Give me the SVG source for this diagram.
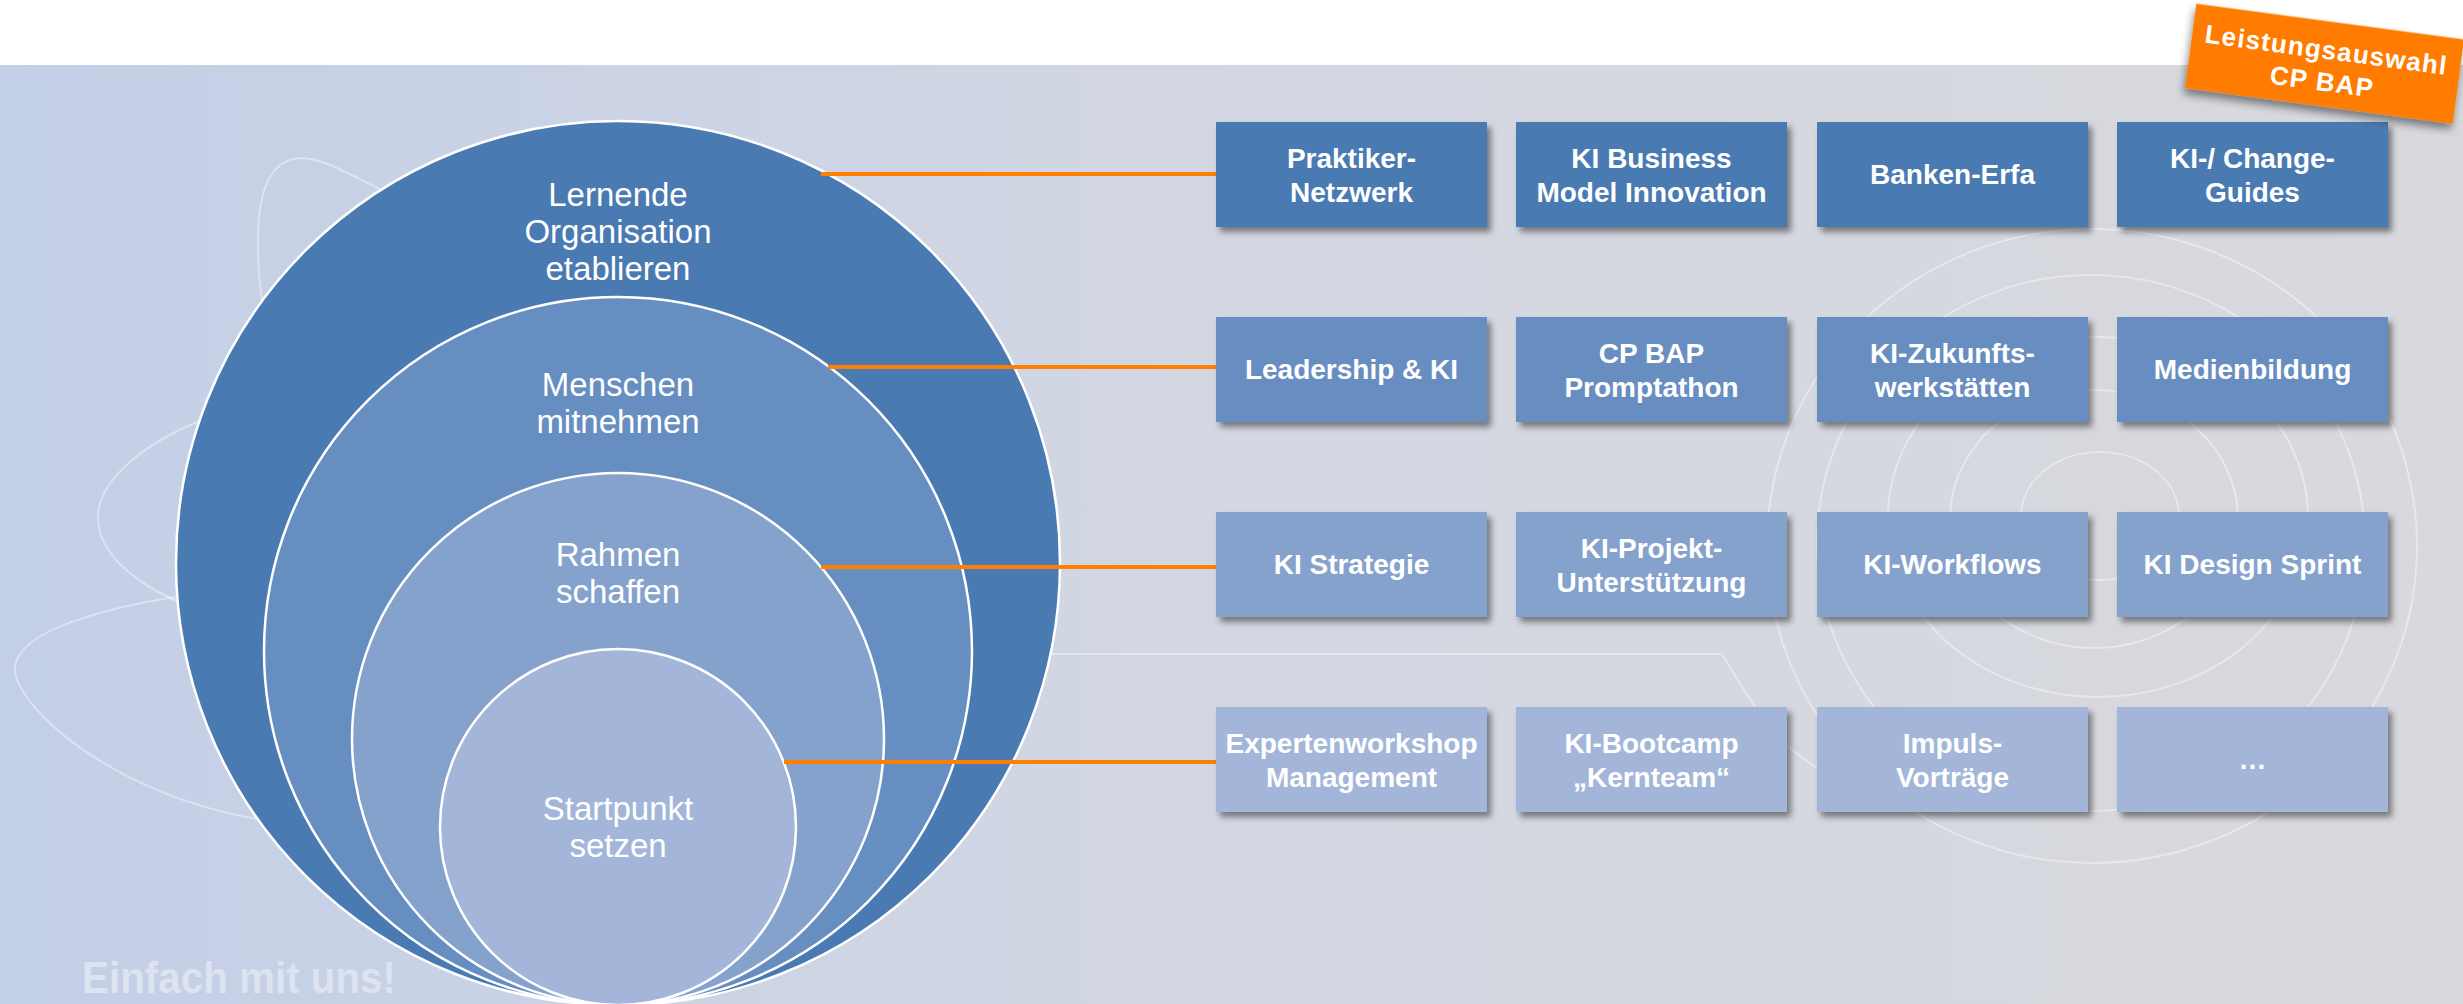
<svg xmlns="http://www.w3.org/2000/svg" width="2463" height="1004" viewBox="0 0 2463 1004">
<defs>
<linearGradient id="bg" x1="0" y1="0" x2="2463" y2="0" gradientUnits="userSpaceOnUse">
<stop offset="0" stop-color="#c3cfe7"/>
<stop offset="0.5" stop-color="#d3d7e2"/>
<stop offset="1" stop-color="#d8d9dd"/>
</linearGradient>
<filter id="shadow" x="-10%" y="-10%" width="130%" height="140%">
<feDropShadow dx="4" dy="5" stdDeviation="3" flood-color="#000" flood-opacity="0.45"/>
</filter>
<filter id="bshadow" x="-10%" y="-20%" width="130%" height="160%">
<feDropShadow dx="-1" dy="6" stdDeviation="4" flood-color="#000" flood-opacity="0.45"/>
</filter>
<style>
.c{stroke:#fff;stroke-width:2.5}
.ct{font-family:"Liberation Sans",Arial,sans-serif;font-size:33px;fill:#fff;text-anchor:middle}
.bt{font-family:"Liberation Sans",Arial,sans-serif;font-weight:bold;font-size:28px;fill:#fff;text-anchor:middle}
.r1{fill:#4a7ab2}
.r2{fill:#678ec1}
.r3{fill:#85a2cd}
.r4{fill:#a3b6da}
.box{filter:url(#shadow)}
.conn{stroke:#ff7f00;stroke-width:4;fill:none}
.deco{fill:none;stroke:#ffffff;stroke-opacity:0.4;stroke-width:2}
</style>
</defs>
<rect x="0" y="0" width="2463" height="1004" fill="#ffffff"/>
<rect x="0" y="65" width="2463" height="939" fill="url(#bg)"/>

<g id="decoration">
<path class="deco" d="M380 189 C345 172 322 158 300 158 C268 160 258 195 258 240 C258 268 260 288 262 301"/>
<path class="deco" d="M205 419 C150 440 98 478 98 517 C98 560 150 592 190 606"/>
<path class="deco" d="M195 594 C110 606 15 630 15 669 C15 705 110 795 262 820"/>
<path class="deco" d="M1052 654 H1722 C1745 690 1770 745 1830 775 C1870 795 1905 808 1960 812"/>
<ellipse class="deco" cx="2092" cy="546" rx="325" ry="317"/>
<ellipse class="deco" cx="2091" cy="543" rx="274" ry="268"/>
<ellipse class="deco" cx="2098" cy="517" rx="210" ry="180"/>
<ellipse class="deco" cx="2094" cy="519" rx="144" ry="129"/>
<ellipse class="deco" cx="2100" cy="516" rx="79" ry="64"/>
</g>

<g id="circles">
<g id="c1">
<circle class="c r1" cx="618" cy="563" r="442"/>
<text class="ct" x="618" y="206">Lernende</text>
<text class="ct" x="618" y="243">Organisation</text>
<text class="ct" x="618" y="280">etablieren</text>
</g>
<g id="c2">
<circle class="c r2" cx="618" cy="651" r="354"/>
<text class="ct" x="618" y="396">Menschen</text>
<text class="ct" x="618" y="433">mitnehmen</text>
</g>
<g id="c3">
<circle class="c r3" cx="618" cy="739" r="266"/>
<text class="ct" x="618" y="566">Rahmen</text>
<text class="ct" x="618" y="603">schaffen</text>
</g>
<g id="c4">
<circle class="c r4" cx="618" cy="827" r="178"/>
<text class="ct" x="618" y="820">Startpunkt</text>
<text class="ct" x="618" y="857">setzen</text>
</g>
</g>

<g id="connectors">
<line class="conn" x1="821" y1="174" x2="1216" y2="174"/>
<line class="conn" x1="828" y1="367" x2="1216" y2="367"/>
<line class="conn" x1="821" y1="567" x2="1216" y2="567"/>
<line class="conn" x1="784" y1="762" x2="1216" y2="762"/>
</g>

<g id="boxes">
<g id="b11"><rect class="box r1" x="1216" y="122" width="271" height="105"/><text class="bt" x="1351.5" y="167.5">Praktiker-</text><text class="bt" x="1351.5" y="201.5">Netzwerk</text></g>
<g id="b12"><rect class="box r1" x="1516" y="122" width="271" height="105"/><text class="bt" x="1651.5" y="167.5">KI Business</text><text class="bt" x="1651.5" y="201.5">Model Innovation</text></g>
<g id="b13"><rect class="box r1" x="1817" y="122" width="271" height="105"/><text class="bt" x="1952.5" y="184">Banken-Erfa</text></g>
<g id="b14"><rect class="box r1" x="2117" y="122" width="271" height="105"/><text class="bt" x="2252.5" y="167.5">KI-/ Change-</text><text class="bt" x="2252.5" y="201.5">Guides</text></g>

<g id="b21"><rect class="box r2" x="1216" y="317" width="271" height="105"/><text class="bt" x="1351.5" y="379">Leadership &amp; KI</text></g>
<g id="b22"><rect class="box r2" x="1516" y="317" width="271" height="105"/><text class="bt" x="1651.5" y="362.5">CP BAP</text><text class="bt" x="1651.5" y="396.5">Promptathon</text></g>
<g id="b23"><rect class="box r2" x="1817" y="317" width="271" height="105"/><text class="bt" x="1952.5" y="362.5">KI-Zukunfts-</text><text class="bt" x="1952.5" y="396.5">werkstätten</text></g>
<g id="b24"><rect class="box r2" x="2117" y="317" width="271" height="105"/><text class="bt" x="2252.5" y="379">Medienbildung</text></g>

<g id="b31"><rect class="box r3" x="1216" y="512" width="271" height="105"/><text class="bt" x="1351.5" y="574">KI Strategie</text></g>
<g id="b32"><rect class="box r3" x="1516" y="512" width="271" height="105"/><text class="bt" x="1651.5" y="557.5">KI-Projekt-</text><text class="bt" x="1651.5" y="591.5">Unterstützung</text></g>
<g id="b33"><rect class="box r3" x="1817" y="512" width="271" height="105"/><text class="bt" x="1952.5" y="574">KI-Workflows</text></g>
<g id="b34"><rect class="box r3" x="2117" y="512" width="271" height="105"/><text class="bt" x="2252.5" y="574">KI Design Sprint</text></g>

<g id="b41"><rect class="box r4" x="1216" y="707" width="271" height="105"/><text class="bt" x="1351.5" y="752.5">Expertenworkshop</text><text class="bt" x="1351.5" y="786.5">Management</text></g>
<g id="b42"><rect class="box r4" x="1516" y="707" width="271" height="105"/><text class="bt" x="1651.5" y="752.5">KI-Bootcamp</text><text class="bt" x="1651.5" y="786.5">„Kernteam“</text></g>
<g id="b43"><rect class="box r4" x="1817" y="707" width="271" height="105"/><text class="bt" x="1952.5" y="752.5">Impuls-</text><text class="bt" x="1952.5" y="786.5">Vorträge</text></g>
<g id="b44"><rect class="box r4" x="2117" y="707" width="271" height="105"/><text class="bt" x="2252.5" y="769">…</text></g>
</g>

<g id="badge" transform="translate(2324.5 63.7) rotate(7.6)">
<rect x="-135" y="-42.5" width="270" height="85" fill="#ff7b00" filter="url(#bshadow)"/>
<text class="bt" x="0" y="-5" style="font-size:26px;letter-spacing:1.2px">Leistungsauswahl</text>
<text class="bt" x="0" y="27" style="font-size:26px;letter-spacing:1.2px">CP BAP</text>
</g>

<text x="82" y="993" font-family="Liberation Sans, Arial, sans-serif" font-weight="bold" font-size="44" fill="#dde3f0" textLength="314" lengthAdjust="spacingAndGlyphs">Einfach mit uns!</text>
</svg>
